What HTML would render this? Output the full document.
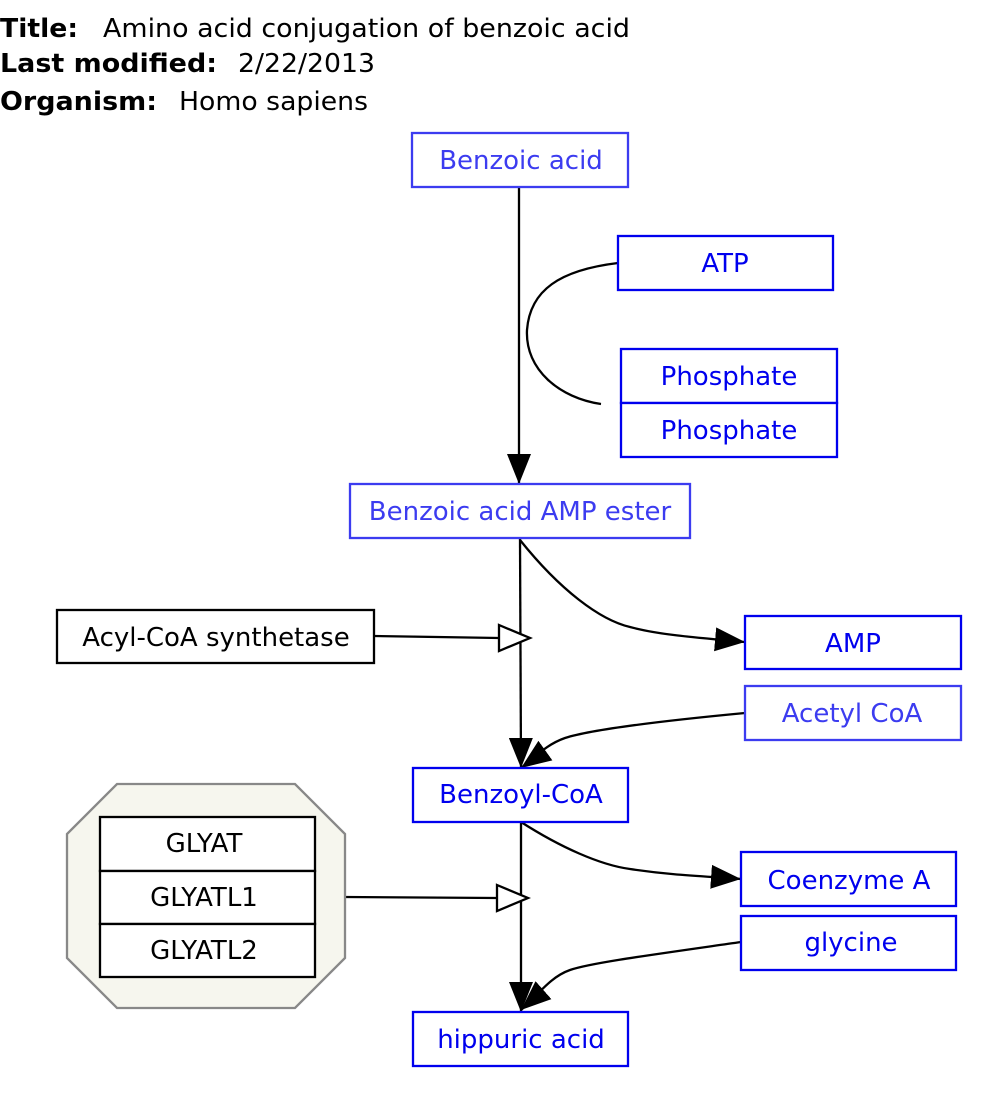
<!DOCTYPE html>
<html><head><meta charset="utf-8"><style>
body{margin:0;background:#fff}
svg text{font-family:"DejaVu Sans","Liberation Sans",sans-serif;font-size:26px}
</style></head><body>
<svg width="1000" height="1105" viewBox="0 0 1000 1105" xmlns="http://www.w3.org/2000/svg">
<defs>
<marker id="a" markerWidth="30" markerHeight="24" refX="30" refY="12" orient="auto" markerUnits="userSpaceOnUse"><path d="M0,0L30,12L0,24z" fill="#000"/></marker>
</defs>
<g fill="#000">
<text x="0" y="37" font-weight="bold" textLength="78" lengthAdjust="spacingAndGlyphs">Title:</text>
<text x="103" y="37" textLength="527" lengthAdjust="spacingAndGlyphs">Amino acid conjugation of benzoic acid</text>
<text x="0" y="72" font-weight="bold" textLength="217" lengthAdjust="spacingAndGlyphs">Last modified:</text>
<text x="238" y="72" textLength="137" lengthAdjust="spacingAndGlyphs">2/22/2013</text>
<text x="0" y="110" font-weight="bold" textLength="157" lengthAdjust="spacingAndGlyphs">Organism:</text>
<text x="179" y="110" textLength="189" lengthAdjust="spacingAndGlyphs">Homo sapiens</text>
</g>
<g fill="none" stroke="#000" stroke-width="2.3">
<line x1="519" y1="187" x2="519" y2="484" marker-end="url(#a)"/>
<path d="M618,263 C560,270 530,290 527,330 C525,370 560,398 601,404"/>
<line x1="520" y1="538" x2="521" y2="768" marker-end="url(#a)"/>
<path d="M520,540 C560,590 600,620 630,627 C660,635 700,638 745,642" marker-end="url(#a)"/>
<line x1="374" y1="636" x2="499" y2="638"/>
<path d="M499,625 L530,638 L499,651z" fill="#fff"/>
<path d="M745,713 C650,722 590,730 565,738 C545,745 535,758 521,768" marker-end="url(#a)"/>
<line x1="521" y1="822" x2="521" y2="1012" marker-end="url(#a)"/>
<path d="M521,822 C560,847 600,865 630,869 C670,875 700,876 741,879" marker-end="url(#a)"/>
<line x1="345" y1="897" x2="497" y2="898"/>
<path d="M497,885 L528,898 L497,911z" fill="#fff"/>
<path d="M741,942 C650,955 590,963 570,970 C550,977 538,995 521,1010" marker-end="url(#a)"/>
</g>
<path d="M117,784 L295,784 L345,834 L345,958 L295,1008 L117,1008 L67,958 L67,834z" fill="#f6f6ee" stroke="#888" stroke-width="2.3"/>
<g stroke-width="2.3" fill="#fff">
<rect x="412" y="133" width="216" height="54" stroke="#3c3cf0"/>
<rect x="618" y="236" width="215" height="54" stroke="#0000ee"/>
<rect x="621" y="349" width="216" height="54" stroke="#0000ee"/>
<rect x="621" y="403" width="216" height="54" stroke="#0000ee"/>
<rect x="350" y="484" width="340" height="54" stroke="#3c3cf0"/>
<rect x="57" y="610" width="317" height="53" stroke="#000"/>
<rect x="745" y="616" width="216" height="53" stroke="#0000ee"/>
<rect x="745" y="686" width="216" height="54" stroke="#3c3cf0"/>
<rect x="413" y="768" width="215" height="54" stroke="#0000ee"/>
<rect x="100" y="817" width="215" height="54" stroke="#000"/>
<rect x="100" y="871" width="215" height="53" stroke="#000"/>
<rect x="100" y="924" width="215" height="53" stroke="#000"/>
<rect x="741" y="852" width="215" height="54" stroke="#0000ee"/>
<rect x="741" y="916" width="215" height="54" stroke="#0000ee"/>
<rect x="413" y="1012" width="215" height="54" stroke="#0000ee"/>
</g>
<g text-anchor="middle">
<text x="521" y="169" fill="#3c3cf0">Benzoic acid</text>
<text x="725" y="272" fill="#0000ee">ATP</text>
<text x="729" y="385" fill="#0000ee">Phosphate</text>
<text x="729" y="439" fill="#0000ee">Phosphate</text>
<text x="520" y="520" fill="#3c3cf0">Benzoic acid AMP ester</text>
<text x="216" y="646" fill="#000">Acyl-CoA synthetase</text>
<text x="853" y="652" fill="#0000ee">AMP</text>
<text x="852" y="722" fill="#3c3cf0">Acetyl CoA</text>
<text x="521" y="803" fill="#0000ee">Benzoyl-CoA</text>
<text x="204" y="852" fill="#000">GLYAT</text>
<text x="204" y="906" fill="#000">GLYATL1</text>
<text x="204" y="959" fill="#000">GLYATL2</text>
<text x="849" y="889" fill="#0000ee">Coenzyme A</text>
<text x="851" y="951" fill="#0000ee">glycine</text>
<text x="521" y="1048" fill="#0000ee">hippuric acid</text>
</g>
</svg>
</body></html>
